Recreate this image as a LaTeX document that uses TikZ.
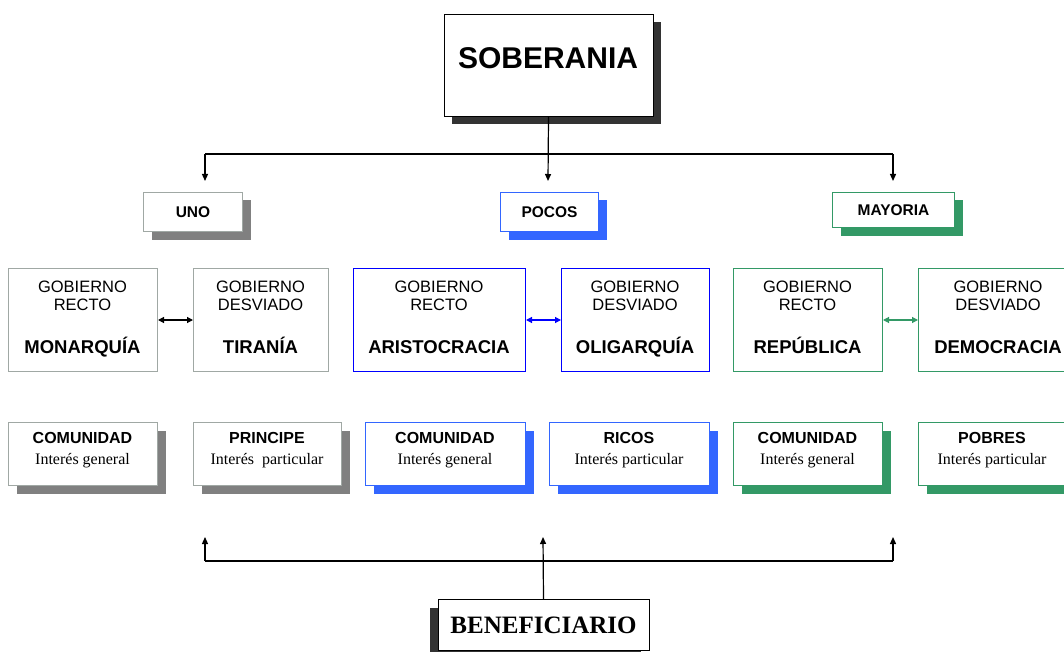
\documentclass[tikz,border=0pt]{standalone}
\usepackage{fontspec}
\setmainfont{Liberation Serif}
\setsansfont{Liberation Sans}
\usetikzlibrary{arrows.meta,shadows}
\definecolor{gborder}{HTML}{A0A8A4}
\definecolor{gshadow}{HTML}{808080}
\definecolor{pblue}{HTML}{0000FF}
\definecolor{lblue}{HTML}{3366FF}
\definecolor{mygreen}{HTML}{339966}
\definecolor{dshadow}{HTML}{333333}
\begin{document}
\begin{tikzpicture}[x=1pt,y=-1pt,
  box/.style={draw, fill=white, line width=1pt, inner sep=0pt, anchor=north west},
  shad/.style={drop shadow={shadow xshift=8pt,shadow yshift=-8pt,fill=#1,opacity=1}},
  lshad/.style={drop shadow={shadow xshift=-8pt,shadow yshift=-8pt,fill=#1,opacity=1}},
  conn/.style={line width=1.2pt, black},
  tip/.style={conn, -{Triangle[length=7pt,width=6pt]}},
  dtip/.style={line width=1.2pt, {Triangle[length=6pt,width=6pt]}-{Triangle[length=6pt,width=6pt]}},
  big/.style={font=\sffamily\bfseries\fontsize{30}{34}\selectfont},
  lab/.style={font=\sffamily\bfseries\fontsize{15.5}{18}\selectfont},
  gob/.style={anchor=base, font=\sffamily\fontsize{16.5}{19}\selectfont},
  gname/.style={anchor=base, font=\sffamily\bfseries\fontsize{18.5}{21}\selectfont},
  bname/.style={anchor=base, font=\sffamily\bfseries\fontsize{16}{19}\selectfont},
  interes/.style={anchor=base, font=\rmfamily\fontsize{16}{19}\selectfont},
  ben/.style={font=\rmfamily\bfseries\fontsize{25}{29}\selectfont}
]
\useasboundingbox (0,0) rectangle (1064,652);
\clip (0,0) rectangle (1064,652);
\fill[white] (0,0) rectangle (1064,652);

% SOBERANIA
\node[box, draw=black, shad=dshadow, minimum width=209pt, minimum height=102pt] (sob) at (443.5,14) {};
\node[big] (sobt) at (548,58) {SOBERANIA};

% level 1
\node[box, draw=gborder, shad=gshadow, minimum width=99pt, minimum height=39pt, lab] (uno) at (143,192) {UNO};
\node[box, draw=lblue, shad=lblue, minimum width=98pt, minimum height=39pt, lab] (pocos) at (500,192) {POCOS};
\node[box, draw=mygreen, shad=mygreen, minimum width=122pt, minimum height=35pt, lab] (mayoria) at (832,192) {MAYORIA};

% top connectors
\coordinate (tl) at (205,154);
\coordinate (tr) at (893,154);
\coordinate (a1) at (205,181);
\coordinate (a2) at (548,181);
\coordinate (a3) at (893,181);
\draw[conn] (tl) -- (tr);
\draw[tip] (tl) -- (a1);
\draw[tip] (sob.south) -- (a2);
\draw[tip] (tr) -- (a3);

% level 2 boxes
\node[box, draw=gborder, minimum width=149pt, minimum height=103pt] (mon) at (8,268) {};
\node[box, draw=gborder, minimum width=135pt, minimum height=103pt] (tir) at (193,268) {};
\node[box, draw=pblue, minimum width=172pt, minimum height=103pt] (ari) at (353,268) {};
\node[box, draw=pblue, minimum width=148pt, minimum height=103pt] (oli) at (561,268) {};
\node[box, draw=mygreen, minimum width=149pt, minimum height=103pt] (rep) at (733,268) {};
\node[box, draw=mygreen, minimum width=160pt, minimum height=103pt] (dem) at (918,268) {};

\node[gob] (mon1) at (82.5,292) {GOBIERNO};
\node[gob] (mon2) at (82.5,310) {RECTO};
\node[gname] (mon3) at (82.5,353) {MONARQUÍA};
\node[gob] (tir1) at (260.5,292) {GOBIERNO};
\node[gob] (tir2) at (260.5,310) {DESVIADO};
\node[gname] (tir3) at (260.5,353) {TIRANÍA};
\node[gob] (ari1) at (439,292) {GOBIERNO};
\node[gob] (ari2) at (439,310) {RECTO};
\node[gname] (ari3) at (439,353) {ARISTOCRACIA};
\node[gob] (oli1) at (635,292) {GOBIERNO};
\node[gob] (oli2) at (635,310) {DESVIADO};
\node[gname] (oli3) at (635,353) {OLIGARQUÍA};
\node[gob] (rep1) at (807.5,292) {GOBIERNO};
\node[gob] (rep2) at (807.5,310) {RECTO};
\node[gname] (rep3) at (807.5,353) {REPÚBLICA};
\node[gob] (dem1) at (998,292) {GOBIERNO};
\node[gob] (dem2) at (998,310) {DESVIADO};
\node[gname] (dem3) at (998,353) {DEMOCRACIA};

\draw[dtip, black] (mon.east) -- (tir.west);
\draw[dtip, pblue] (ari.east) -- (oli.west);
\draw[dtip, mygreen] (rep.east) -- (dem.west);

% level 3 boxes
\node[box, draw=gborder, shad=gshadow, minimum width=149pt, minimum height=63pt] (c1) at (8,422) {};
\node[box, draw=gborder, shad=gshadow, minimum width=148pt, minimum height=63pt] (pri) at (193,422) {};
\node[box, draw=lblue, shad=lblue, minimum width=160pt, minimum height=63pt] (c2) at (365,422) {};
\node[box, draw=lblue, shad=lblue, minimum width=160pt, minimum height=63pt] (ric) at (549,422) {};
\node[box, draw=mygreen, shad=mygreen, minimum width=149pt, minimum height=63pt] (c3) at (733,422) {};
\node[box, draw=mygreen, shad=mygreen, minimum width=149pt, minimum height=63pt] (pob) at (918,422) {};

\node[bname] (c1a) at (82.5,443) {COMUNIDAD};
\node[interes] (c1b) at (82.5,464) {Interés general};
\node[bname] (pria) at (267,443) {PRINCIPE};
\node[interes] (prib) at (267,464) {Interés\ \ particular};
\node[bname] (c2a) at (445,443) {COMUNIDAD};
\node[interes] (c2b) at (445,464) {Interés general};
\node[bname] (rica) at (629,443) {RICOS};
\node[interes] (ricb) at (629,464) {Interés particular};
\node[bname] (c3a) at (807.5,443) {COMUNIDAD};
\node[interes] (c3b) at (807.5,464) {Interés general};
\node[bname] (poba) at (992,443) {POBRES};
\node[interes] (pobb) at (992,464) {Interés particular};

% BENEFICIARIO
\node[box, draw=black, lshad=dshadow, minimum width=211pt, minimum height=51pt, ben] (ben) at (437.5,599) {BENEFICIARIO};

\coordinate (bl) at (205,561);
\coordinate (br) at (893,561);
\coordinate (b1) at (205,537);
\coordinate (b2) at (543,537);
\coordinate (b3) at (893,537);
\draw[conn] (bl) -- (br);
\draw[tip] (bl) -- (b1);
\draw[tip] (ben.north) -- (b2);
\draw[tip] (br) -- (b3);
\end{tikzpicture}
\end{document}
